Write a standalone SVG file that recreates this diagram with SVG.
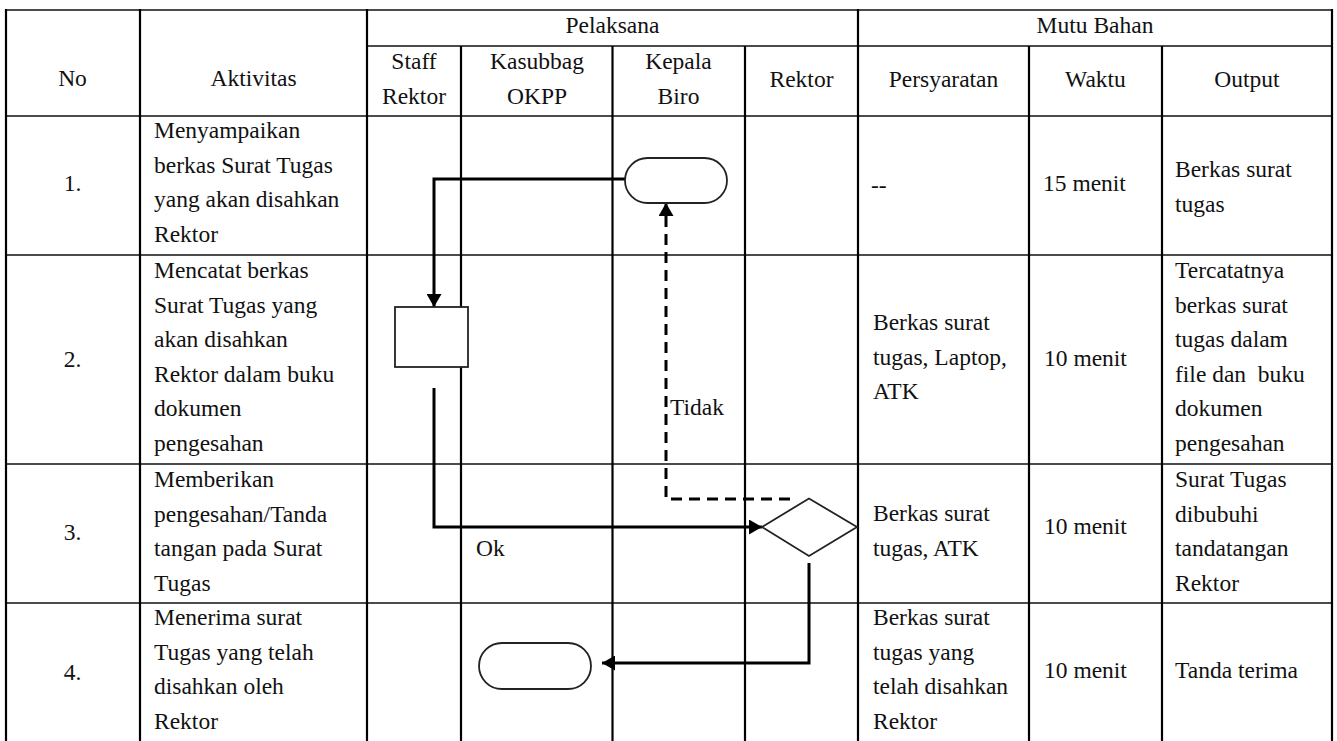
<svg xmlns="http://www.w3.org/2000/svg" width="1337" height="741" viewBox="0 0 1337 741">
<style>
text{font-family:"Liberation Serif","Times New Roman",serif;font-size:23.5px;fill:#111}
.c{text-anchor:middle}
.v{stroke:#000;stroke-width:2.2;fill:none}
.h{stroke:#111;stroke-width:1.6;fill:none}
.shape{fill:#fff;stroke:#222;stroke-width:1.8}
.con{fill:none;stroke:#000;stroke-width:3}
.dash{stroke-dasharray:11 7}
</style>
<defs>
<marker id="ah" viewBox="0 0 13 15" refX="13" refY="7.5" markerWidth="13" markerHeight="15" markerUnits="userSpaceOnUse" orient="auto">
<path d="M0,0 L13,7.5 L0,15 z" fill="#000"/>
</marker>
</defs>
<rect width="1337" height="741" fill="#fff"/>
<g id="table">
<path class="h" d="M5,10 H1333 M367,46 H1333 M5,116 H1333 M5,255 H1333 M5,464 H1333 M5,603 H1333"/>
<path class="v" d="M6,9 V741 M140,9 V741 M367,9 V741 M461,46 V741 M612.5,46 V741 M745,46 V741 M858,9 V741 M1029,46 V741 M1162,46 V741 M1332,9 V741"/>
</g>
<g id="header">
<text class="c" x="612.5" y="33">Pelaksana</text>
<text class="c" x="1095" y="33">Mutu Bahan</text>
<text class="c" x="72.5" y="86">No</text>
<text class="c" x="253.5" y="86">Aktivitas</text>
<text class="c" x="414" y="69">Staff</text>
<text class="c" x="414" y="104">Rektor</text>
<text class="c" x="537" y="69">Kasubbag</text>
<text class="c" x="537" y="104">OKPP</text>
<text class="c" x="678.5" y="69">Kepala</text>
<text class="c" x="678.5" y="104">Biro</text>
<text class="c" x="801.5" y="87">Rektor</text>
<text class="c" x="943.5" y="87">Persyaratan</text>
<text class="c" x="1095.5" y="87">Waktu</text>
<text class="c" x="1247" y="87">Output</text>
</g>
<g id="row1">
<text class="c" x="72.5" y="191">1.</text>
<text x="154" y="138">Menyampaikan</text>
<text x="154" y="172.5">berkas Surat Tugas</text>
<text x="154" y="207">yang akan disahkan</text>
<text x="154" y="241.5">Rektor</text>
<text x="871" y="193">--</text>
<text x="1043" y="191">15 menit</text>
<text x="1175" y="177">Berkas surat</text>
<text x="1175" y="211.5">tugas</text>
</g>
<g id="row2">
<text class="c" x="72.5" y="367">2.</text>
<text x="154" y="278">Mencatat berkas</text>
<text x="154" y="312.5">Surat Tugas yang</text>
<text x="154" y="347">akan disahkan</text>
<text x="154" y="381.5">Rektor dalam buku</text>
<text x="154" y="416">dokumen</text>
<text x="154" y="450.5">pengesahan</text>
<text x="873" y="330">Berkas surat</text>
<text x="873" y="364.5">tugas, Laptop,</text>
<text x="873" y="399">ATK</text>
<text x="1044" y="366">10 menit</text>
<text x="1175" y="278">Tercatatnya</text>
<text x="1175" y="312.5">berkas surat</text>
<text x="1175" y="347">tugas dalam</text>
<text x="1175" y="381.5" xml:space="preserve">file dan  buku</text>
<text x="1175" y="416">dokumen</text>
<text x="1175" y="450.5">pengesahan</text>
</g>
<g id="row3">
<text class="c" x="72.5" y="540">3.</text>
<text x="154" y="487">Memberikan</text>
<text x="154" y="521.5">pengesahan/Tanda</text>
<text x="154" y="556">tangan pada Surat</text>
<text x="154" y="590.5">Tugas</text>
<text x="873" y="521">Berkas surat</text>
<text x="873" y="555.5">tugas, ATK</text>
<text x="1044" y="534">10 menit</text>
<text x="1175" y="487">Surat Tugas</text>
<text x="1175" y="521.5">dibubuhi</text>
<text x="1175" y="556">tandatangan</text>
<text x="1175" y="590.5">Rektor</text>
</g>
<g id="row4">
<text class="c" x="72.5" y="680">4.</text>
<text x="154" y="625">Menerima surat</text>
<text x="154" y="659.5">Tugas yang telah</text>
<text x="154" y="694">disahkan oleh</text>
<text x="154" y="728.5">Rektor</text>
<text x="873" y="625">Berkas surat</text>
<text x="873" y="659.5">tugas yang</text>
<text x="873" y="694">telah disahkan</text>
<text x="873" y="728.5">Rektor</text>
<text x="1044" y="678">10 menit</text>
<text x="1175" y="678">Tanda terima</text>
</g>
<g id="connectors">
<path class="con" d="M625,179 H434 V307" marker-end="url(#ah)"/>
<path class="con dash" d="M790,499 H666 V203" marker-end="url(#ah)"/>
<path class="con" d="M434,388 V527 H762" marker-end="url(#ah)"/>
<path class="con" d="M809,563 V663 H602" marker-end="url(#ah)"/>
<text x="670" y="415">Tidak</text>
<text x="476" y="556">Ok</text>
</g>
<g id="start">
<rect class="shape" x="625" y="158" width="102" height="45" rx="22.5"/>
</g>
<g id="catat">
<rect class="shape" x="395" y="307" width="73" height="60"/>
</g>
<g id="decision">
<polygon class="shape" points="762,527 809,498.5 857,527 809,556"/>
</g>
<g id="end">
<rect class="shape" x="479" y="643" width="112" height="46" rx="23"/>
</g>
</svg>
